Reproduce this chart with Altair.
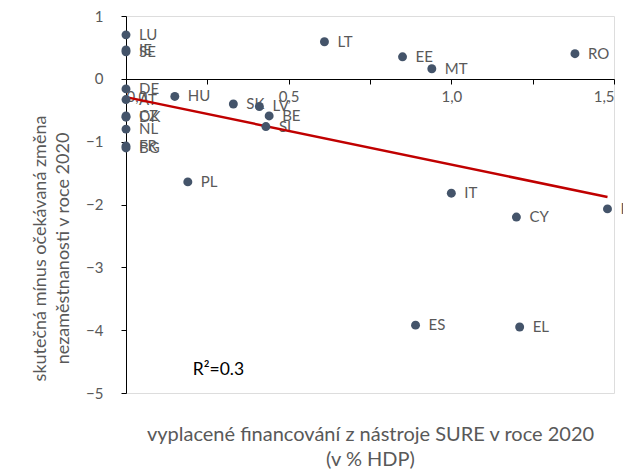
import altair as alt
import pandas as pd

countries = ["LU", "IE", "SE", "DE", "AT", "HU", "CZ", "DK", "NL", "FR", "BG",
             "SK", "LV", "BE", "SI", "LT", "EE", "MT", "RO", "PL", "IT", "CY",
             "PT", "ES", "EL"]
sure_funding = [0, 0, 0, 0, 0, 0.15, 0, 0, 0, 0, 0,
                0.33, 0.41, 0.44, 0.43, 0.61, 0.85, 0.94, 1.38, 0.19, 1.00, 1.20,
                1.48, 0.89, 1.21]
unemp_gap = [0.70, 0.46, 0.43, -0.16, -0.33, -0.28, -0.59, -0.61, -0.80, -1.07, -1.10,
             -0.40, -0.44, -0.59, -0.76, 0.59, 0.35, 0.16, 0.40, -1.64, -1.82, -2.20,
             -2.07, -3.92, -3.95]

r2_label = ["R²=0.3"]
r2_x = [0.205]
r2_y = [-4.63]

x_ticks = [0, 0.25, 0.5, 0.75, 1.0, 1.25, 1.5]
y_ticks = [-5, -4, -3, -2, -1, 0, 1]

df = pd.DataFrame({"country": countries, "x": sure_funding, "y": unemp_gap})
ann = pd.DataFrame({"label": r2_label, "x": r2_x, "y": r2_y})

FONT = "Lato"
GRAY = "#595959"
H = 377
W = 488

xscale = alt.Scale(domain=[0, 1.5], nice=False, zero=False)
yscale = alt.Scale(domain=[-5, 1], nice=False, zero=False)

x_enc = alt.X(
    "x:Q", scale=xscale,
    axis=alt.Axis(
        values=x_ticks,
        labelExpr="datum.value % 0.5 == 0 ? replace(format(datum.value, '.1f'), '.', ',') : ''",
        offset=-314, grid=False, domainColor="black", tickColor="black",
        tickSize=5, labelColor=GRAY, labelFontSize=15, labelFont=FONT,
        labelPadding=5,
        title=["vyplacené financování z nástroje SURE v roce 2020", "(v % HDP)"],
        titleFont=FONT, titleFontSize=20, titleColor=GRAY, titleFontWeight="normal",
        titleY=345, titleBaseline="top", titleLineHeight=25,
    ),
)
y_enc = alt.Y(
    "y:Q", scale=yscale,
    axis=alt.Axis(
        values=y_ticks, format="d", grid=False, domainColor="black", tickColor="black",
        tickSize=5, labelColor=GRAY, labelFontSize=15, labelFont=FONT,
        labelPadding=18,
        title=["skutečná mínus očekávaná změna", "nezaměstnanosti v roce 2020"],
        titleFont=FONT, titleFontSize=18, titleColor=GRAY, titleFontWeight="normal",
        titlePadding=13, titleLineHeight=23, titleY=232,
    ),
)

base = alt.Chart(df)

points = base.mark_circle(size=80, color="#44546A", opacity=1).encode(x=x_enc, y=y_enc)

labels = base.mark_text(align="left", baseline="middle", dx=13, font=FONT,
                        fontSize=15, color=GRAY).encode(
    x=alt.X("x:Q", scale=xscale), y=alt.Y("y:Q", scale=yscale), text="country:N")

trend = base.transform_regression("x", "y").mark_line(
    color="#C00000", strokeWidth=2.5).encode(
    x=alt.X("x:Q", scale=xscale), y=alt.Y("y:Q", scale=yscale))

r2 = alt.Chart(ann).mark_text(align="left", baseline="middle", font=FONT,
                              fontSize=17.5, color="black").encode(
    x=alt.X("x:Q", scale=xscale), y=alt.Y("y:Q", scale=yscale), text="label:N")

chart = alt.layer(labels, trend, points, r2).properties(
    width=W, height=H,
    autosize=alt.AutoSizeParams(type="none"),
    padding={"left": 118, "top": 8, "right": 9, "bottom": 78},
).configure_view(stroke=None).configure(background="white")

chart.save("out.html", embed_options={"renderer": "svg", "actions": False})
